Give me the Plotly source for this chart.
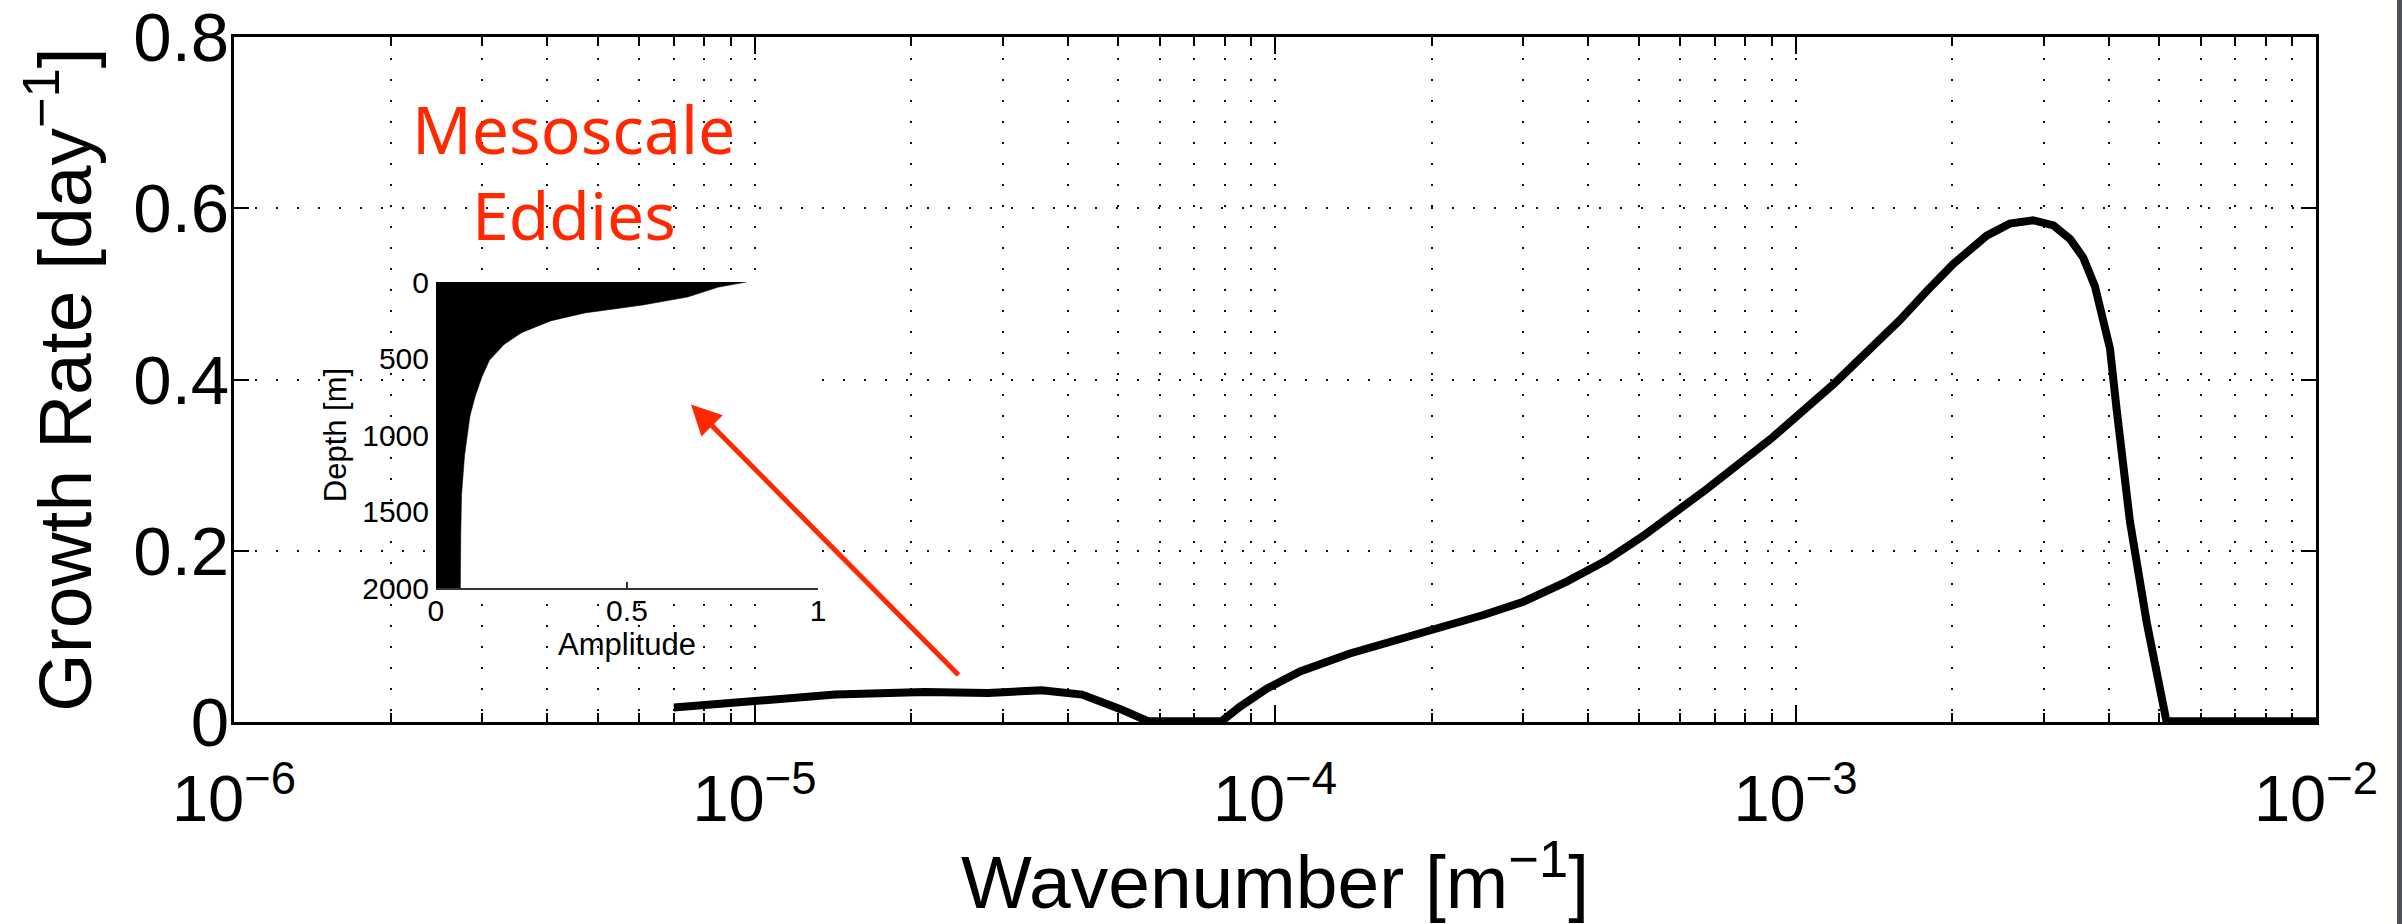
import plotly.graph_objects as go

# ---------------- data ----------------
wavenumber = [7.0e-6, 1.0e-5, 1.43e-5, 2.12e-5, 2.81e-5, 3.56e-5, 4.26e-5, 5.05e-5,
              5.7e-5, 7.9e-5, 8.57e-5, 9.64e-5, 1.117e-4, 1.393e-4, 1.738e-4, 2.014e-4,
              2.514e-4, 3.0e-4, 3.634e-4, 4.34e-4, 5.09e-4, 6.75e-4, 8.96e-4, 1.19e-3,
              1.588e-3, 1.786e-3, 2.01e-3, 2.33e-3, 2.58e-3, 2.86e-3, 3.13e-3, 3.37e-3,
              3.57e-3, 3.76e-3, 4.02e-3, 4.14e-3, 4.39e-3, 4.73e-3, 5.16e-3, 1.0e-2]
growth_rate = [0.017, 0.025, 0.032, 0.035, 0.034, 0.037, 0.032, 0.015,
               0.001, 0.001, 0.018, 0.039, 0.059, 0.080, 0.096, 0.107,
               0.125, 0.1405, 0.164, 0.189, 0.217, 0.272, 0.3305, 0.396,
               0.4695, 0.503, 0.535, 0.568, 0.582, 0.586, 0.580, 0.564,
               0.5425, 0.509, 0.436, 0.365, 0.2345, 0.116, 0.001, 0.001]

depth = [0, 34, 98, 150, 202, 254, 331, 409, 512, 616, 745, 875, 1133, 1392, 1651, 2000]
amplitude = [0.813, 0.738, 0.659, 0.542, 0.39, 0.30, 0.224, 0.178, 0.140, 0.121,
             0.103, 0.089, 0.075, 0.067, 0.065, 0.064]

x_major_ticks = [1e-6, 1e-5, 1e-4, 1e-3, 1e-2]
x_major_labels = ["10<sup>−6</sup>", "10<sup>−5</sup>", "10<sup>−4</sup>",
                  "10<sup>−3</sup>", "10<sup>−2</sup>"]
x_minor_mult = [2, 3, 4, 5, 6, 7, 8, 9]
x_minor_ticks = [m * d for d in [1e-6, 1e-5, 1e-4, 1e-3] for m in x_minor_mult]
y_ticks = [0, 0.2, 0.4, 0.6, 0.8]
y_labels = ["0", "0.2", "0.4", "0.6", "0.8"]
inset_x_ticks = [0, 0.5, 1]
inset_x_labels = ["0", "0.5", "1"]
inset_y_ticks = [0, 500, 1000, 1500, 2000]

FONT = "Liberation Sans, Arial, Helvetica, sans-serif"
RED = "#ff2800"
GRIDDASH = "2px,19px"
GRIDCOLOR = "#111111"

fig = go.Figure()

fig.add_trace(go.Scatter(
    x=wavenumber, y=growth_rate, mode="lines",
    line=dict(color="black", width=8), xaxis="x", yaxis="y",
    showlegend=False, hoverinfo="skip"))

fig.add_trace(go.Scatter(
    x=amplitude, y=depth, mode="lines", fill="tozerox", fillcolor="black",
    line=dict(color="black", width=0.5), xaxis="x2", yaxis="y2",
    showlegend=False, hoverinfo="skip"))

fig.update_layout(
    width=2402, height=924, autosize=False,
    margin=dict(l=234, r=86, t=37, b=202, pad=0),
    paper_bgcolor="white", plot_bgcolor="white",
    font=dict(family=FONT, color="black"),
    showlegend=False,
    xaxis=dict(
        type="log", range=[-6, -2], tickmode="array",
        tickvals=x_major_ticks, ticktext=x_major_labels,
        ticks="inside", ticklen=17, tickwidth=2, tickcolor="black",
        showline=True, linecolor="black", linewidth=3, mirror="ticks",
        showgrid=True, gridcolor=GRIDCOLOR, gridwidth=2, griddash=GRIDDASH,
        minor=dict(tickmode="array", tickvals=x_minor_ticks, ticks="inside",
                   ticklen=9, tickwidth=2, tickcolor="black",
                   showgrid=True, gridcolor=GRIDCOLOR, gridwidth=2, griddash=GRIDDASH),
        zeroline=False, tickfont=dict(size=65), automargin=False,
        ticklabelstandoff=18, ticklabeloverflow="allow",
        title=dict(text="Wavenumber [m<sup>−1</sup>]", font=dict(size=75), standoff=33),
    ),
    yaxis=dict(
        range=[0, 0.8], tickmode="array", tickvals=y_ticks, ticktext=y_labels,
        ticks="inside", ticklen=15, tickwidth=2, tickcolor="black",
        showline=True, linecolor="black", linewidth=3, mirror="ticks",
        showgrid=True, gridcolor=GRIDCOLOR, gridwidth=2, griddash=GRIDDASH,
        zeroline=False, tickfont=dict(size=69), automargin=False,
        ticklabelstandoff=-12, ticklabeloverflow="allow",
        title=dict(text="Growth Rate [day<sup>−1</sup>]", font=dict(size=75), standoff=18),
    ),
    xaxis2=dict(
        domain=[0.0970, 0.2805], anchor="y2", range=[0, 1],
        tickmode="array", tickvals=inset_x_ticks, ticktext=inset_x_labels,
        ticks="inside", ticklen=6, tickwidth=1.5, tickcolor="#333333",
        showline=True, linecolor="#333333", linewidth=1.5,
        showgrid=False, zeroline=False, tickfont=dict(size=30), automargin=False,
        ticklabeloverflow="allow", ticklabelstandoff=-5,
        title=dict(text="Amplitude", font=dict(size=31), standoff=0),
    ),
    yaxis2=dict(
        domain=[0.1956, 0.6423], anchor="x2", range=[2000, 0],
        tickmode="array", tickvals=inset_y_ticks,
        ticks="", showline=False, showgrid=False, zeroline=False,
        tickfont=dict(size=30), automargin=False, ticklabelstandoff=6,
        ticklabeloverflow="allow",
        title=dict(text="Depth [m]", font=dict(size=31), standoff=6),
    ),
    shapes=[
        dict(type="rect", xref="x2 domain", yref="y2 domain",
             x0=-0.343, x1=1.0576, y0=-0.2745, y1=1.0458,
             fillcolor="white", line=dict(width=0), layer="below"),
        dict(type="rect", xref="paper", yref="paper",
             x0=1.0389, x1=1.05, y0=-0.35, y1=1.1,
             fillcolor="#4d525b", line=dict(width=0), layer="above"),
    ],
    annotations=[
        dict(text="Mesoscale", xref="paper", yref="paper", x=0.1633, y=0.867,
             xanchor="center", yanchor="middle", showarrow=False,
             font=dict(family="Noto Sans, sans-serif", size=66, color=RED)),
        dict(text="Eddies", xref="paper", yref="paper", x=0.1633, y=0.7414,
             xanchor="center", yanchor="middle", showarrow=False,
             font=dict(family="Noto Sans, sans-serif", size=66, color=RED)),
        dict(text="", xref="paper", yref="paper", x=0.2195, y=0.4635,
             ax=269, ay=272, showarrow=True, arrowhead=2, arrowsize=1.2,
             arrowwidth=5, arrowcolor=RED, standoff=0, startstandoff=0),
    ],
)

fig.write_html("out.html", config={"displayModeBar": False},
               post_script="document.body.style.margin='0';")
